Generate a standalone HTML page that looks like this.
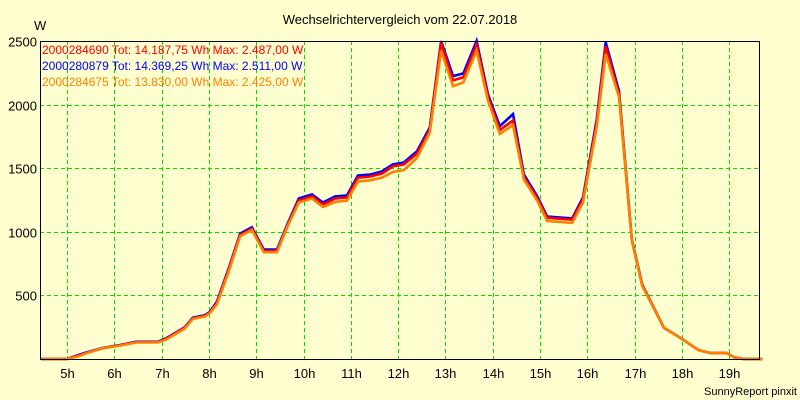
<!DOCTYPE html>
<html><head><meta charset="utf-8">
<style>
body{margin:0;background:#FFFFD0;}
svg{display:block;font-family:"Liberation Sans",Arial,sans-serif;}
</style></head>
<body>
<svg id="chart" width="800" height="400" viewBox="0 0 800 400" xmlns="http://www.w3.org/2000/svg">
<rect x="0" y="0" width="800" height="400" fill="#FFFFD0"/>
<text x="400" y="24" font-size="13" text-anchor="middle" fill="#000">Wechselrichtervergleich vom 22.07.2018</text>
<text x="34" y="30" font-size="13" fill="#000">W</text>
<text x="797" y="395" font-size="11" text-anchor="end" fill="#000">SunnyReport pinxit</text>
<g id="grid"></g>
<g id="series"></g>
<g id="axes"></g>
<g font-size="12">
<text x="42" y="54" fill="#FF0000">2000284690 Tot: 14.187,75 Wh Max: 2.487,00 W</text>
<text x="42" y="70" fill="#0000FF">2000280879 Tot: 14.369,25 Wh Max: 2.511,00 W</text>
<text x="42" y="86" fill="#FF8000">2000284675 Tot: 13.830,00 Wh Max: 2.425,00 W</text>
</g>
</svg>
<script>
const times = [4.45,5.0,5.23,5.44,5.76,6.12,6.46,6.92,7.11,7.49,7.66,7.92,8.02,8.17,8.42,8.66,8.91,9.16,9.44,9.66,9.90,10.18,10.41,10.67,10.92,11.15,11.41,11.66,11.89,12.12,12.40,12.67,12.91,13.16,13.38,13.66,13.90,14.15,14.43,14.66,14.94,15.15,15.68,15.91,16.20,16.39,16.67,16.94,17.16,17.62,17.93,18.35,18.60,18.95,19.10,19.30,19.70];
const blueValues = [0,0,30,55,87,110,135,135,165,250,325,345,370,450,715,985,1035,860,860,1060,1262,1294,1230,1278,1286,1443,1450,1475,1530,1545,1633,1820,2500,2224,2245,2500,2080,1830,1925,1450,1280,1120,1105,1270,1885,2490,2105,940,585,245,175,70,47,47,15,0,0];
const redValues = [0,0,25,50,85,108,132,132,160,245,320,340,365,440,705,975,1025,850,850,1050,1245,1280,1215,1262,1270,1425,1435,1458,1515,1530,1615,1800,2487,2190,2215,2470,2060,1800,1875,1430,1265,1110,1095,1255,1860,2460,2080,935,580,245,175,70,47,47,15,0,0];
const orangeValues = [0,0,20,50,85,105,130,130,155,240,315,335,360,430,690,965,1015,840,840,1040,1230,1262,1195,1235,1245,1395,1405,1425,1470,1485,1580,1780,2425,2145,2175,2425,2030,1770,1840,1410,1245,1085,1070,1230,1830,2400,2060,930,575,245,175,70,47,47,15,0,0];
const yTicks = [500,1000,1500,2000,2500];
const yTickLabels = ["500","1000","1500","2000","2500"];
const xTicks = [5,6,7,8,9,10,11,12,13,14,15,16,17,18,19];
const xTickLabels = ["5h","6h","7h","8h","9h","10h","11h","12h","13h","14h","15h","16h","17h","18h","19h"];

const L=40,R=759,T=41,B=359;
const xs = h => 67 + (h-5)*47.3;
const ys = v => B - v*(B-T)/2500;
const NS="http://www.w3.org/2000/svg";
function mk(tag,attrs,parent){const e=document.createElementNS(NS,tag);for(const k in attrs)e.setAttribute(k,attrs[k]);parent.appendChild(e);return e;}
const grid=document.getElementById('grid'), axes=document.getElementById('axes'), series=document.getElementById('series');
yTicks.forEach((v,i)=>{
  const y=Math.round(ys(v))+0.5;
  const l=mk('line',{x1:L,x2:R,y1:y,y2:y,stroke:'#00E000','stroke-width':1,'stroke-dasharray':'4,3'},grid);
  
  
  const t=mk('text',{x:37,y:y+5,'font-size':13,'text-anchor':'end',fill:'#000'},axes);
  t.textContent=yTickLabels[i];
  
  
});
xTicks.forEach((h,i)=>{
  const x=Math.round(xs(h))+0.5;
  const l=mk('line',{x1:x,x2:x,y1:T,y2:B,stroke:'#00E000','stroke-width':1,'stroke-dasharray':'4,3'},grid);
  
  
  const t=mk('text',{x:x,y:378,'font-size':13,'text-anchor':'middle',fill:'#000'},axes);
  t.textContent=xTickLabels[i];
  
  
});
const frame=mk('rect',{x:L+0.5,y:T+0.5,width:R-L,height:B-T,fill:'none',stroke:'#000','stroke-width':1},axes);


function drawLine(vals,color,name){
  const d=vals.map((v,i)=>(i?'L':'M')+Math.max(L,xs(times[i])).toFixed(1)+','+ys(v).toFixed(1)).join(' ');
  const p=mk('path',{d:d,fill:'none',stroke:color,'stroke-width':2.6,'stroke-linejoin':'miter'},series);
  
  
}
drawLine(blueValues,'#0000FF','series-2000280879');
drawLine(redValues,'#FF0000','series-2000284690');
drawLine(orangeValues,'#FF8000','series-2000284675');
</script>
</body></html>
